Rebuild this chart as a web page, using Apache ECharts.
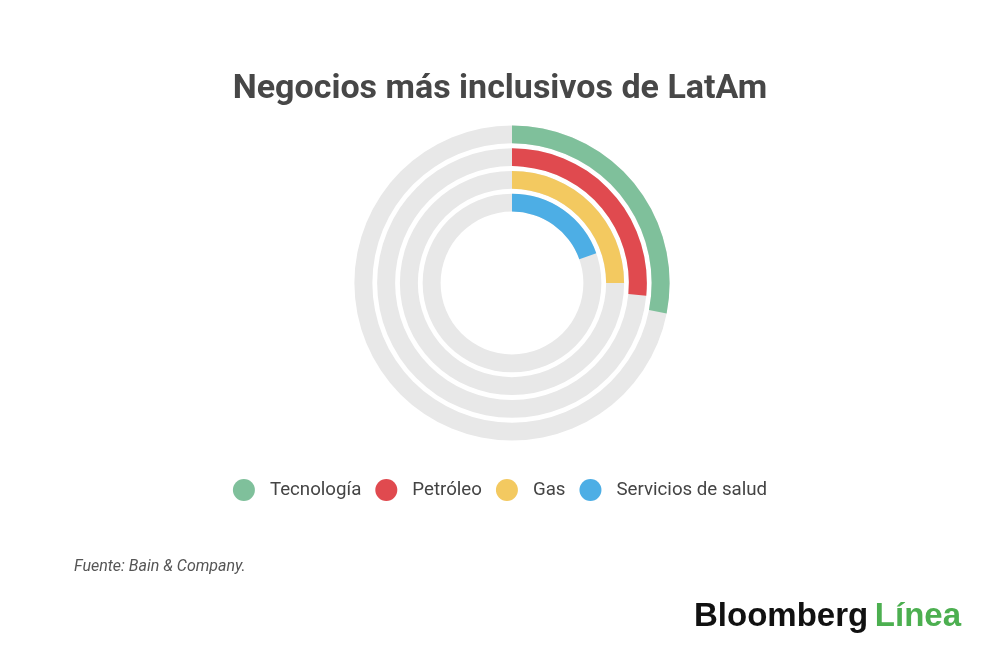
<!DOCTYPE html>
<html>
<head>
<meta charset="utf-8">
<script src="https://cdn.jsdelivr.net/npm/echarts@6/dist/echarts.min.js"></script>
<style>
html,body{margin:0;padding:0;background:#fff;}
#main{width:1000px;height:661px;}
</style>
</head>
<body>
<div id="main"></div>
<script>
// categories from inner ring to outer ring
const categories = ['Servicios de salud', 'Gas', 'Petróleo', 'Tecnología'];
const values = [19.6, 25, 26.5, 28.1];
const colors = ['#4daee5', '#f3c960', '#e04a4f', '#7fc09b'];
const legendOrder = ['Tecnología', 'Petróleo', 'Gas', 'Servicios de salud'];

const chart = echarts.init(document.getElementById('main'));

const series = [
  {
    name: 'values',
    type: 'bar',
    coordinateSystem: 'polar',
    data: values.map((v, i) => ({ value: v, name: categories[i], itemStyle: { color: colors[i] } })),
    barCategoryGap: '21%',
    showBackground: true,
    backgroundStyle: { color: '#e8e8e8' },
    z: 3
  }
];
// legend-only entries
categories.forEach((c, i) => {
  series.push({
    name: c,
    type: 'line',
    coordinateSystem: 'polar',
    data: [],
    itemStyle: { color: colors[i] },
    lineStyle: { color: colors[i] }
  });
});

chart.setOption({
  backgroundColor: '#ffffff',
  animation: false,
  title: {
    text: 'Negocios más inclusivos de LatAm',
    left: 'center',
    top: 67,
    textStyle: { fontFamily: 'Roboto', fontWeight: 'bold', fontSize: 34, color: '#474747' }
  },
  polar: { center: [512, 283], radius: [69, 160] },
  angleAxis: {
    type: 'value', min: 0, max: 100, startAngle: 90, clockwise: true,
    axisLine: { show: false }, axisTick: { show: false }, axisLabel: { show: false }, splitLine: { show: false }
  },
  radiusAxis: {
    type: 'category', data: categories,
    axisLine: { show: false }, axisTick: { show: false }, axisLabel: { show: false }, splitLine: { show: false }
  },
  legend: {
    data: legendOrder,
    left: 'center',
    top: 474,
    icon: 'circle',
    itemWidth: 22,
    itemHeight: 22,
    itemGap: 14,
    textStyle: { fontFamily: 'Roboto', fontSize: 18.7, color: '#444', padding: [0, 0, 0, 10] }
  },
  graphic: [
    {
      type: 'text', left: 74, top: 559,
      style: { text: 'Fuente: Bain & Company.', font: 'italic 16px Roboto', fill: '#555' }
    },
    {
      type: 'text', left: 694, top: 600,
      style: {
        text: '{a|Bloomberg}  {b|Línea}',
        rich: {
          a: { fontFamily: 'Liberation Sans', fontWeight: 'bold', fontSize: 33, fill: '#111', color: '#111' },
          b: { fontFamily: 'Liberation Sans', fontWeight: 'bold', fontSize: 33, fill: '#4caf50', color: '#4caf50' }
        }
      }
    }
  ],
  series: series
});
</script>
</body>
</html>
